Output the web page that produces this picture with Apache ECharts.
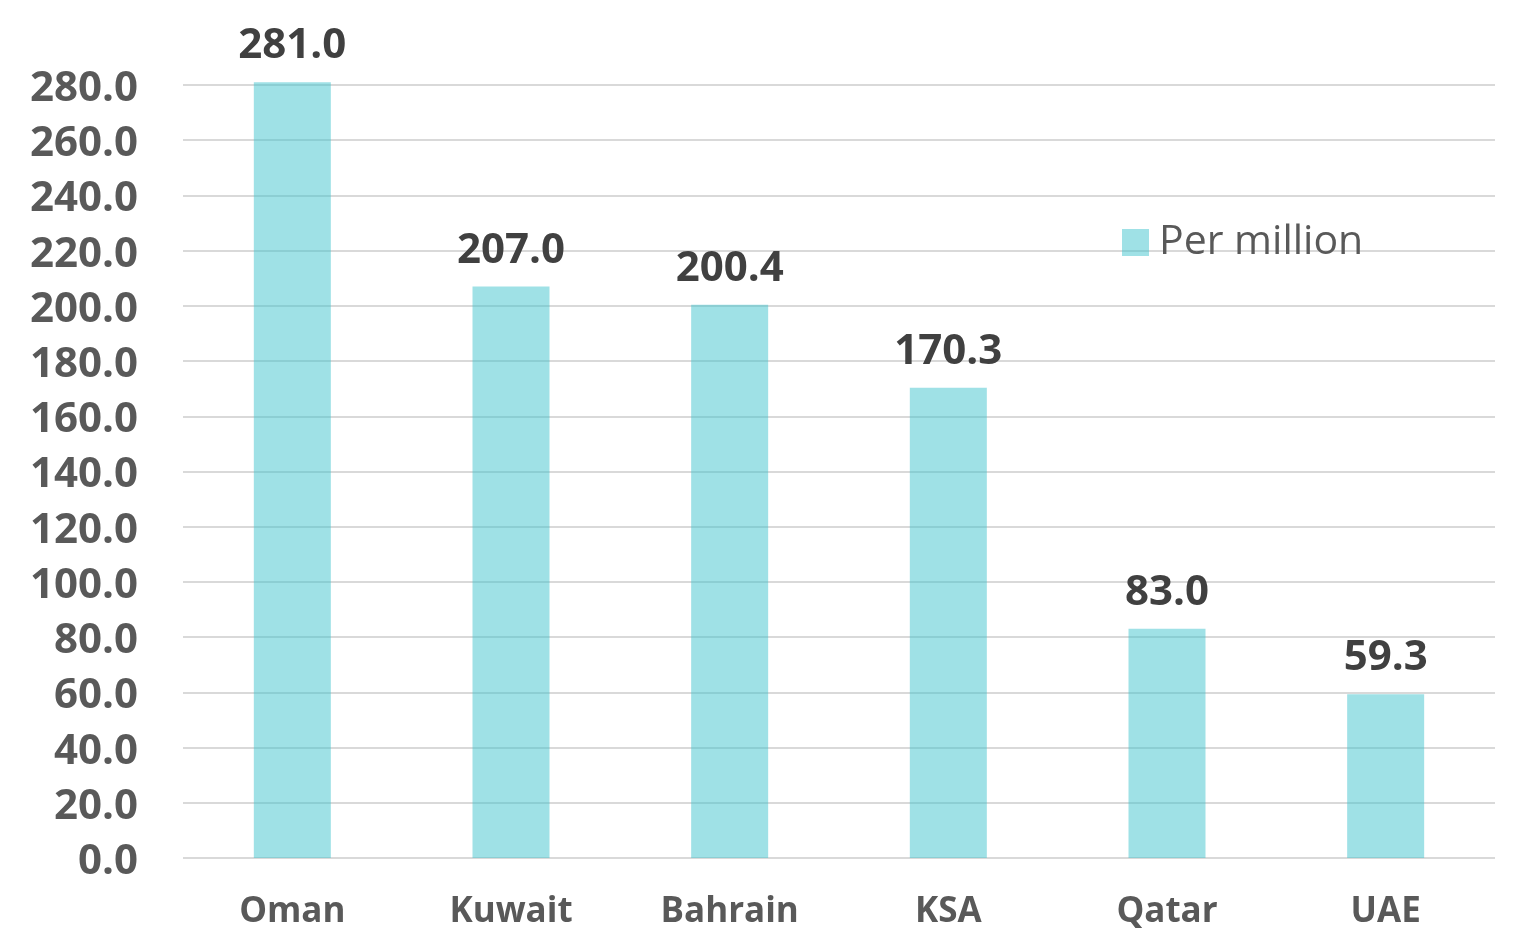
<!DOCTYPE html>
<html>
<head>
<meta charset="utf-8">
<script src="https://cdn.jsdelivr.net/npm/echarts@6/dist/echarts.min.js"></script>
<style>
  html, body { margin: 0; padding: 0; background: #fff; }
  #chart { width: 1519px; height: 937px; }
</style>
</head>
<body>
<div id="chart"></div>
<script>
var countries = ['Oman', 'Kuwait', 'Bahrain', 'KSA', 'Qatar', 'UAE'];
var perMillion = [281.0, 207.0, 200.4, 170.3, 83.0, 59.3];
var seriesName = 'Per million';

var chart = echarts.init(document.getElementById('chart'));
var font = '"Open Sans", "Noto Sans", sans-serif';

chart.setOption({
    animation: false,
    textStyle: { fontFamily: font },
    legend: {
        data: [{ name: seriesName, icon: 'rect' }],
        left: 1117,
        top: 217,
        itemWidth: 27,
        itemHeight: 27,
        textStyle: {
            fontSize: 41,
            color: '#595959',
            fontFamily: font,
            padding: [0, 0, 0, 5]
        }
    },
    grid: {
        left: 183,
        right: 24,
        top: 85,
        bottom: 79
    },
    xAxis: {
        type: 'category',
        data: countries,
        axisLine: { show: false },
        axisTick: { show: false },
        axisLabel: {
            margin: 37,
            fontSize: 35,
            fontWeight: 'bold',
            color: '#595959',
            fontFamily: font
        }
    },
    yAxis: {
        type: 'value',
        min: 0,
        max: 280,
        interval: 20,
        axisLine: { show: false },
        axisTick: { show: false },
        axisLabel: {
            margin: 45,
            formatter: function (v) { return '{t|' + v.toFixed(1) + '}'; },
            rich: {
                t: {
                    fontSize: 42,
                    fontWeight: 'bold',
                    color: '#595959',
                    fontFamily: font,
                    padding: [8, 0, 0, 0]
                }
            }
        },
        splitLine: { lineStyle: { color: '#d9d9d9', width: 2 } }
    },
    series: [{
        name: seriesName,
        type: 'bar',
        data: perMillion,
        barWidth: 77,
        clip: false,
        itemStyle: { color: 'rgba(64,196,206,0.5)' },
        label: {
            show: true,
            position: 'top',
            distance: 15,
            fontSize: 42,
            fontWeight: 'bold',
            color: '#404040',
            fontFamily: font,
            formatter: function (p) { return p.value.toFixed(1); }
        }
    }]
});
</script>
</body>
</html>
